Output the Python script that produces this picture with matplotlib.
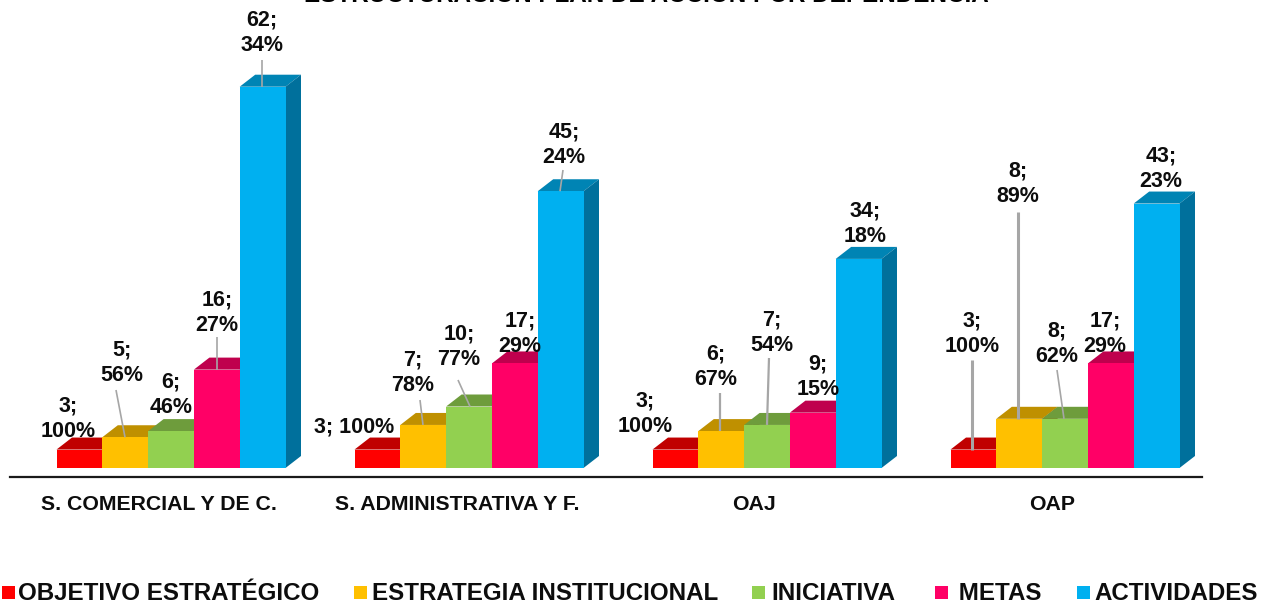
import matplotlib
matplotlib.use("Agg")
import matplotlib.pyplot as plt
from matplotlib.patches import Polygon, Rectangle

# data
title = "ESTRUCTURACIÓN PLAN DE ACCIÓN POR DEPENDENCIA"
groups = ["S. COMERCIAL Y DE C.", "S. ADMINISTRATIVA Y F.", "OAJ", "OAP"]
series = ["OBJETIVO ESTRATÉGICO", "ESTRATEGIA INSTITUCIONAL", "INICIATIVA", " METAS", "ACTIVIDADES"]
objetivo = [3, 3, 3, 3]
estrategia = [5, 7, 6, 8]
iniciativa = [6, 10, 7, 8]
metas = [16, 17, 9, 17]
actividades = [62, 45, 34, 43]
pct_objetivo = [100, 100, 100, 100]
pct_estrategia = [56, 78, 67, 89]
pct_iniciativa = [46, 77, 54, 62]
pct_metas = [27, 29, 15, 29]
pct_actividades = [34, 24, 18, 23]

# colours
front = ["#FF0000", "#FFC000", "#92D050", "#FF0066", "#00B0F0"]
top = ["#C00000", "#BF9000", "#6E9C3C", "#BF004D", "#0084B4"]
side = ["#990000", "#997300", "#587D30", "#99003D", "#00709C"]

# layout, all in pixels of the 1272x602 picture
W, H = 1272, 602
bar_px = 45.8
group_px = 298
unit_px = 6.15
left_px = 56.5
base_px = 468
dx_px, dy_px = 15.5, 12

fig = plt.figure(figsize=(W / 100, H / 100), dpi=100)
plt.rcParams["font.family"] = ["Liberation Sans", "DejaVu Sans"]
ax = fig.add_axes([0, 0, 1, 1])
ax.set_xlim(0, W)
ax.set_ylim(-(H - base_px) / unit_px, base_px / unit_px)
ax.axis("off")


def py(p):
    # pixel row to data y
    return (base_px - p) / unit_px


all_vals = [objetivo, estrategia, iniciativa, metas, actividades]
all_pct = [pct_objetivo, pct_estrategia, pct_iniciativa, pct_metas, pct_actividades]
dy = dy_px / unit_px

for g in range(len(groups)):
    for s in range(len(series)):
        v = all_vals[s][g]
        x0 = left_px + g * group_px + s * bar_px
        x1 = x0 + bar_px
        ax.bar(x0, v, width=bar_px, align="edge", color=front[s], zorder=3 + s * 3)
        ax.add_patch(Polygon([(x0, v), (x1, v), (x1 + dx_px, v + dy), (x0 + dx_px, v + dy)],
                             closed=True, color=top[s], lw=0, zorder=2 + s * 3))
        ax.add_patch(Polygon([(x1, 0), (x1 + dx_px, dy), (x1 + dx_px, v + dy), (x1, v)],
                             closed=True, color=side[s], lw=0, zorder=2 + s * 3))

# label centres, (group, series) -> pixel x, y
label_pos = {
    (0, 0): (68, 419), (0, 1): (122, 363), (0, 2): (171, 395), (0, 3): (217, 313), (0, 4): (262, 33),
    (1, 0): (354, 427), (1, 1): (413, 373), (1, 2): (459, 347), (1, 3): (520, 334), (1, 4): (564, 145),
    (2, 0): (645, 414), (2, 1): (716, 367), (2, 2): (772, 333), (2, 3): (818, 377), (2, 4): (865, 224),
    (3, 0): (972, 334), (3, 1): (1018, 184), (3, 2): (1057, 344), (3, 3): (1105, 334), (3, 4): (1161, 169),
}
# leader lines: start above the bar, end on it
leaders = {
    (0, 1): (116, 390, 125), (0, 3): (217, 337, 217), (0, 4): (262, 60, 262),
    (1, 1): (420, 400, 423), (1, 2): (458, 380, 470), (1, 4): (563, 170, 560),
    (2, 1): (720, 393, 720), (2, 2): (769, 358, 767),
    (3, 0): (972, 360, 972), (3, 1): (1018, 212, 1018), (3, 2): (1057, 370, 1064),
}
thick = {(3, 0): 2.2, (3, 1): 2.2, (2, 2): 1.6, (2, 1): 1.6}

for (g, s), (xs, ys, xe) in leaders.items():
    ax.plot([xs, xe], [py(ys), all_vals[s][g]], color="#A6A6A6", lw=thick.get((g, s), 1.2), zorder=30,
            solid_capstyle="butt")

for (g, s), (x, y) in label_pos.items():
    sep = " " if (g, s) == (1, 0) else "\n"
    ax.text(x, py(y), f"{all_vals[s][g]};{sep}{all_pct[s][g]}%", ha="center", va="center",
            fontsize=15.5, fontweight="bold", color="#0D0D0D", linespacing=1.3, zorder=40)

# baseline and category names
ax.plot([10, 1202], [py(477), py(477)], color="#1A1A1A", lw=1.6, zorder=2)
for x, name in zip([159, 457, 754, 1052], groups):
    ax.text(x, py(504), name, ha="center", va="center", fontsize=15.3, fontweight="bold", color="#0D0D0D")

# legend
legend_sq = [2, 354, 752, 935, 1077]
legend_txt = [18, 372, 771, 952, 1094]
for s, name in enumerate(series):
    ax.add_patch(Rectangle((legend_sq[s], py(599)), 13, 13 / unit_px, color=front[s], lw=0))
    ax.text(legend_txt[s], py(593), name, ha="left", va="center", fontsize=17.4, fontweight="bold", color="#0D0D0D")

# title is cut by the top edge in the original too
ax.text(646, py(2), title, ha="center", va="baseline", fontsize=17.5, fontweight="bold", color="black")

fig.savefig("out.png", dpi=100)
